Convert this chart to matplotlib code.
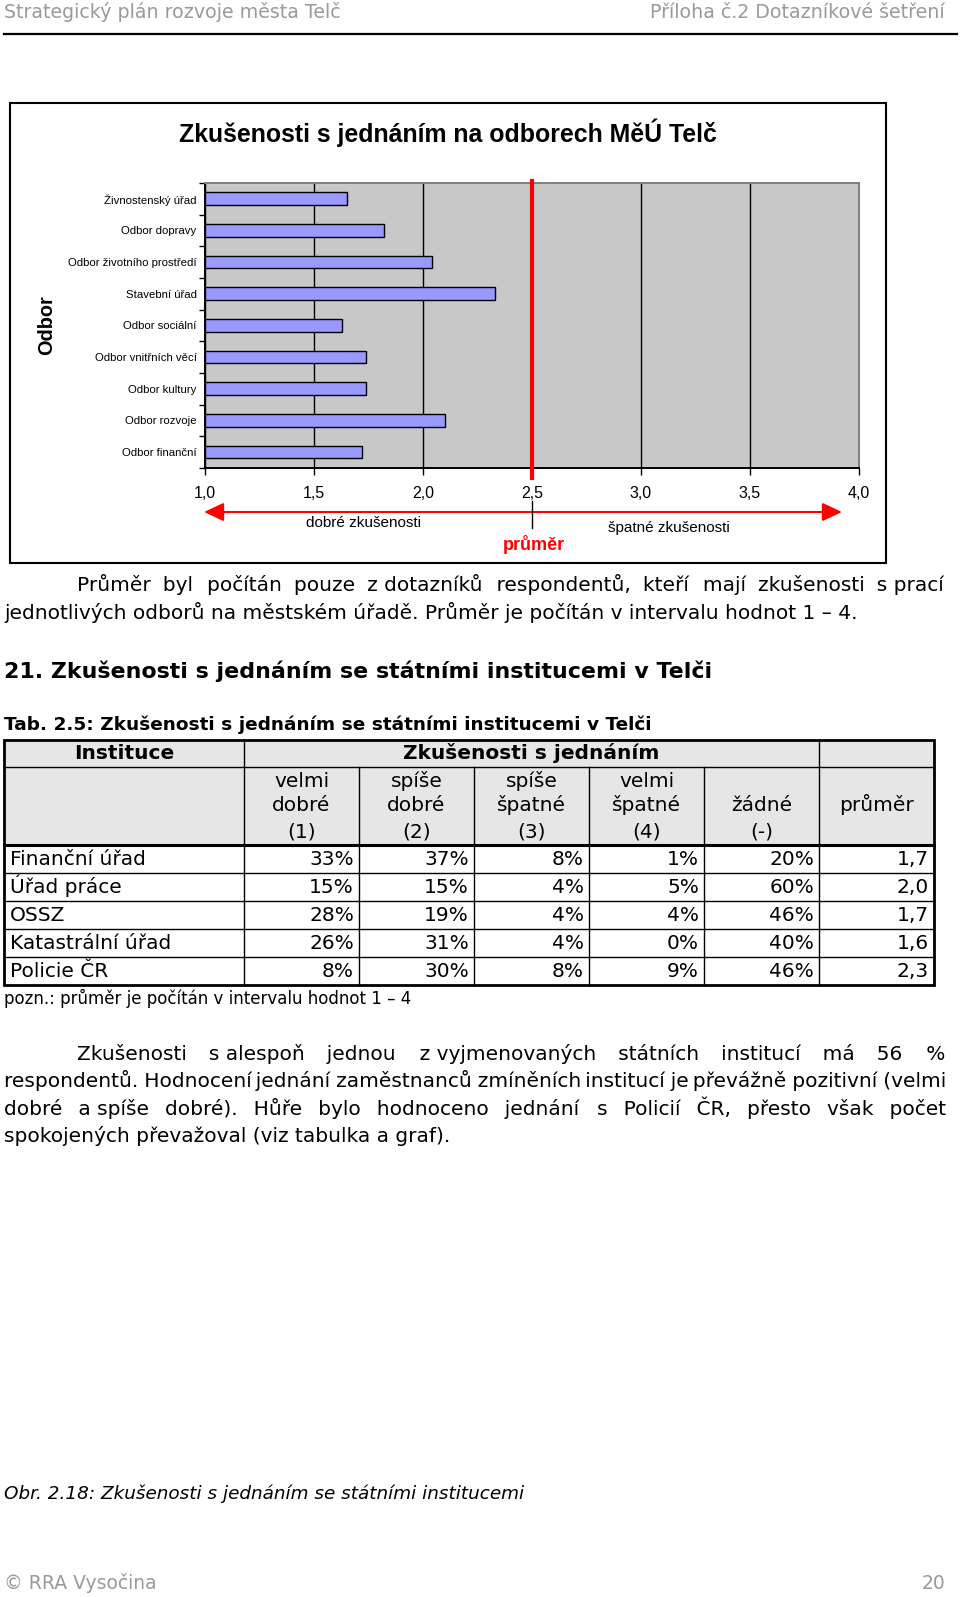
import matplotlib
matplotlib.use('Agg')
import numpy as np
import matplotlib.pyplot as plt
from matplotlib.patches import Rectangle, FancyArrowPatch

W, H = 960, 1597

# graf: prumerne hodnoceni odboru (1 = dobre, 4 = spatne)
odbory = ['Živnostenský úřad', 'Odbor dopravy', 'Odbor životního prostředí', 'Stavební úřad',
          'Odbor sociální', 'Odbor vnitřních věcí', 'Odbor kultury', 'Odbor rozvoje', 'Odbor finanční']
hodnoceni = [1.65, 1.82, 2.04, 2.33, 1.63, 1.74, 1.74, 2.10, 1.72]
prumer = 2.5
x_ticks = [1.0, 1.5, 2.0, 2.5, 3.0, 3.5, 4.0]

# tabulka 2.5
instituce = ['Finanční úřad', 'Úřad práce', 'OSSZ', 'Katastrální úřad', 'Policie ČR']
velmi_dobre = [33, 15, 28, 26, 8]
spise_dobre = [37, 15, 19, 31, 30]
spise_spatne = [8, 4, 4, 4, 8]
velmi_spatne = [1, 5, 4, 0, 9]
zadne = [20, 60, 46, 40, 46]
prumer_inst = [1.7, 2.0, 1.7, 1.6, 2.3]
hlavicky = [('velmi', 'dobré', '(1)'), ('spíše', 'dobré', '(2)'), ('spíše', 'špatné', '(3)'),
            ('velmi', 'špatné', '(4)'), ('', 'žádné', '(-)')]

fig = plt.figure(figsize=(W / 100, H / 100), dpi=100)
page = fig.add_axes([0, 0, 1, 1], zorder=0)
page.set_xlim(0, W)
page.set_ylim(H, 0)
page.axis('off')
r = fig.canvas.get_renderer()

BODY = 'DejaVu Sans'
ARIAL = 'Liberation Sans'
THIN, HAIR = '\u2009', '\u200a'


def txt(x, y, s, **kw):
    # y je stred radku; kresli se od uctary
    kw.setdefault('fontfamily', BODY)
    if 'va' not in kw:
        fs = kw.get('fontsize', 10)
        y = y + 0.27 * fs * 100 / 72
        kw['va'] = 'baseline'
    return page.text(x, y, s, **kw)


def width(t):
    return t.get_window_extent(renderer=r).width


def measure(s, fs, **kw):
    kw.setdefault('fontfamily', BODY)
    t = page.text(0, 0, s, fontsize=fs, **kw)
    w = width(t)
    t.remove()
    return w


def fit_size(s, target, **kw):
    return 10 * target / measure(s, 10, **kw)


def space_w(ch, fs, **kw):
    return (measure('x' + ch * 20 + 'x', fs, **kw) - measure('xx', fs, **kw)) / 20


def build(words, gap, th, hr):
    parts, err = [], 0.0
    for i, w in enumerate(words):
        parts.append(w)
        if i < len(words) - 1:
            want = gap + err
            nt = max(int(want // th), 0)
            nh = max(int(round((want - nt * th) / hr)), 0)
            err = want - nt * th - nh * hr
            parts.append(THIN * nt + HAIR * nh)
    return ''.join(parts)


def justify(words, y, x0, x1, fs, **kw):
    # cely radek jako jeden text, mezery doplnene uzkymi mezerami
    th, hr = space_w(THIN, fs, **kw), space_w(HAIR, fs, **kw)
    ws = [measure(w, fs, **kw) for w in words]
    gap = (x1 - x0 - sum(ws)) / (len(words) - 1)
    s = build(words, gap, th, hr)
    gap += ((x1 - x0) - measure(s, fs, **kw)) / (len(words) - 1)
    s = build(words, gap, th, hr)
    return txt(x0, y, s, fontsize=fs, ha='left', **kw)


# zahlavi stranky
head_fs = fit_size('Strategický plán rozvoje města Telč', 337)
txt(4, 13, 'Strategický plán rozvoje města Telč', fontsize=head_fs, color='#9a9a9a')
txt(945, 13, 'Příloha č.2 Dotazníkové šetření', fontsize=head_fs, color='#9a9a9a', ha='right')
page.plot([4, 957], [34, 34], color='black', lw=1.6)

# ramecek grafu
page.add_patch(Rectangle((10, 103), 876, 460, fill=False, ec='black', lw=1.5))
title = 'Zkušenosti s jednáním na odborech MěÚ Telč'
tfs = fit_size(title, 539, fontfamily=ARIAL, fontweight='bold')
txt(448, 135, title, fontsize=tfs, fontfamily=ARIAL, fontweight='bold', ha='center')
ofs = fit_size('Odbor', 60, fontfamily=ARIAL, fontweight='bold')
page.text(47, 325, 'Odbor', fontsize=ofs, fontfamily=ARIAL, fontweight='bold', ha='center',
          va='center', rotation=90)

ax = fig.add_axes([205 / W, 1 - 468 / H, (859 - 205) / W, (468 - 183) / H], zorder=1)
ax.set_facecolor('#c8c8c8')
ypos = np.arange(len(odbory))
ax.barh(ypos, [v - 1 for v in hodnoceni], left=1, height=0.4, color='#9999ff',
        edgecolor='black', lw=1, zorder=3)
ax.set_xlim(1, 4)
ax.set_ylim(len(odbory) - 0.5, -0.5)
ax.set_yticks(ypos)
ax.set_yticklabels(odbory, fontfamily=ARIAL, fontsize=8.2)
ax.set_yticks(np.arange(-0.5, len(odbory), 1), minor=True)
ax.tick_params(axis='y', which='major', length=0, pad=6)
ax.tick_params(axis='y', which='minor', length=4, width=1, color='black', direction='out')
ax.set_xticks(x_ticks)
ax.set_xticklabels([f'{v:.1f}'.replace('.', ',') for v in x_ticks], fontfamily=ARIAL, fontsize=11.5)
ax.tick_params(axis='x', length=5, width=1, direction='out', pad=8)
ax.xaxis.grid(True, color='black', lw=1)
ax.set_axisbelow(True)
for s in ['left', 'bottom']:
    ax.spines[s].set_color('black')
    ax.spines[s].set_linewidth(1.4)
for s in ['top', 'right']:
    ax.spines[s].set_color('#808080')
    ax.spines[s].set_linewidth(1.4)
ax.axvline(prumer, ymin=-10 / 285, ymax=1 + 2 / 285, color='red', lw=3, clip_on=False, zorder=5)

# osa dobre / spatne zkusenosti
page.add_patch(FancyArrowPatch((204, 512), (842, 512), arrowstyle='<|-|>,head_length=0.6,head_width=0.28',
                               mutation_scale=20, color='red', lw=1.5, shrinkA=0, shrinkB=0))
page.plot([532, 532], [501, 528], color='black', lw=1)
txt(363, 523, 'dobré zkušenosti', fontfamily=ARIAL, fontsize=11, ha='center')
txt(669, 528, 'špatné zkušenosti', fontfamily=ARIAL, fontsize=11, ha='center')
txt(534, 545, 'průměr', fontfamily=ARIAL, fontsize=13, fontweight='bold', color='red', ha='center')

# text pod grafem
line2 = 'jednotlivých odborů na městském úřadě. Průměr je počítán v intervalu hodnot 1 – 4.'
body_fs = fit_size(line2, 851)
justify(['Průměr', 'byl', 'počítán', 'pouze', 'z dotazníků', 'respondentů,', 'kteří', 'mají',
         'zkušenosti', 's prací'], 586, 77, 945, body_fs)
txt(4, 614, line2, fontsize=body_fs)

heading = '21. Zkušenosti s jednáním se státními institucemi v Telči'
hfs = fit_size(heading, 707, fontweight='bold')
txt(4, 672, heading, fontsize=hfs, fontweight='bold')
caption = 'Tab. 2.5: Zkušenosti s jednáním se státními institucemi v Telči'
cfs = fit_size(caption, 647, fontweight='bold')
txt(4, 725, caption, fontsize=cfs, fontweight='bold')

# tabulka
cols = [4, 244, 359, 474, 589, 704, 819, 934]
rows = [740, 767, 845, 873, 901, 929, 957, 985]
page.add_patch(Rectangle((cols[0], rows[0]), cols[-1] - cols[0], rows[2] - rows[0],
                         fc='#e6e6e6', ec='none'))
for y in rows[3:-1]:
    page.plot([cols[0], cols[-1]], [y, y], color='black', lw=1)
page.plot([cols[0], cols[-1]], [rows[1], rows[1]], color='black', lw=1)
page.plot([cols[0], cols[-1]], [rows[2], rows[2]], color='black', lw=2.2)
for x in [cols[1], cols[6]]:
    page.plot([x, x], [rows[0], rows[-1]], color='black', lw=1)
for x in cols[2:6]:
    page.plot([x, x], [rows[1], rows[-1]], color='black', lw=1)
page.add_patch(Rectangle((cols[0], rows[0]), cols[-1] - cols[0], rows[-1] - rows[0],
                         fill=False, ec='black', lw=2))

txt((cols[0] + cols[1]) / 2, 754, 'Instituce', fontsize=body_fs, fontweight='bold', ha='center')
txt((cols[1] + cols[6]) / 2, 754, 'Zkušenosti s jednáním', fontsize=body_fs, fontweight='bold', ha='center')
for i, lab in enumerate(hlavicky):
    cx = (cols[i + 1] + cols[i + 2]) / 2
    for s, y in zip(lab, [782, 806, 832]):
        txt(cx, y, s, fontsize=body_fs, ha='center')
txt((cols[6] + cols[7]) / 2, 806, 'průměr', fontsize=body_fs, ha='center')

tab = [velmi_dobre, spise_dobre, spise_spatne, velmi_spatne, zadne]
for k, name in enumerate(instituce):
    cy = (rows[2 + k] + rows[3 + k]) / 2 + 1
    txt(10, cy, name, fontsize=body_fs)
    for j, serie in enumerate(tab):
        txt(cols[j + 2] - 5, cy, f'{serie[k]}%', fontsize=body_fs, ha='right')
    txt(cols[7] - 5, cy, f'{prumer_inst[k]:.1f}'.replace('.', ','), fontsize=body_fs, ha='right')

pozn = 'pozn.: průměr je počítán v intervalu hodnot 1 – 4'
pfs = fit_size(pozn, 407)
txt(4, 1000, pozn, fontsize=pfs)

# druhy odstavec
justify(['Zkušenosti', 's alespoň', 'jednou', 'z vyjmenovaných', 'státních', 'institucí', 'má',
         '56', '%'], 1055, 77, 945, body_fs)
justify('respondentů. Hodnocení jednání zaměstnanců zmíněních institucí je převážně pozitivní (velmi'.split(),
        1082, 4, 945, body_fs)
justify(['dobré', 'a spíše', 'dobré).', 'Hůře', 'bylo', 'hodnoceno', 'jednání', 's', 'Policií', 'ČR,',
         'přesto', 'však', 'počet'], 1110, 4, 945, body_fs)
txt(4, 1137, 'spokojených převažoval (viz tabulka a graf).', fontsize=body_fs)

obr = 'Obr. 2.18: Zkušenosti s jednáním se státními institucemi'
ifs = fit_size(obr, 517, fontstyle='italic')
txt(4, 1494, obr, fontsize=ifs, fontstyle='italic')

# zapati
ffs = fit_size('© RRA Vysočina', 152)
txt(4, 1584, '© RRA Vysočina', fontsize=ffs, color='#9a9a9a')
txt(945, 1584, '20', fontsize=ffs, color='#9a9a9a', ha='right')

fig.savefig('out.png', dpi=100)
